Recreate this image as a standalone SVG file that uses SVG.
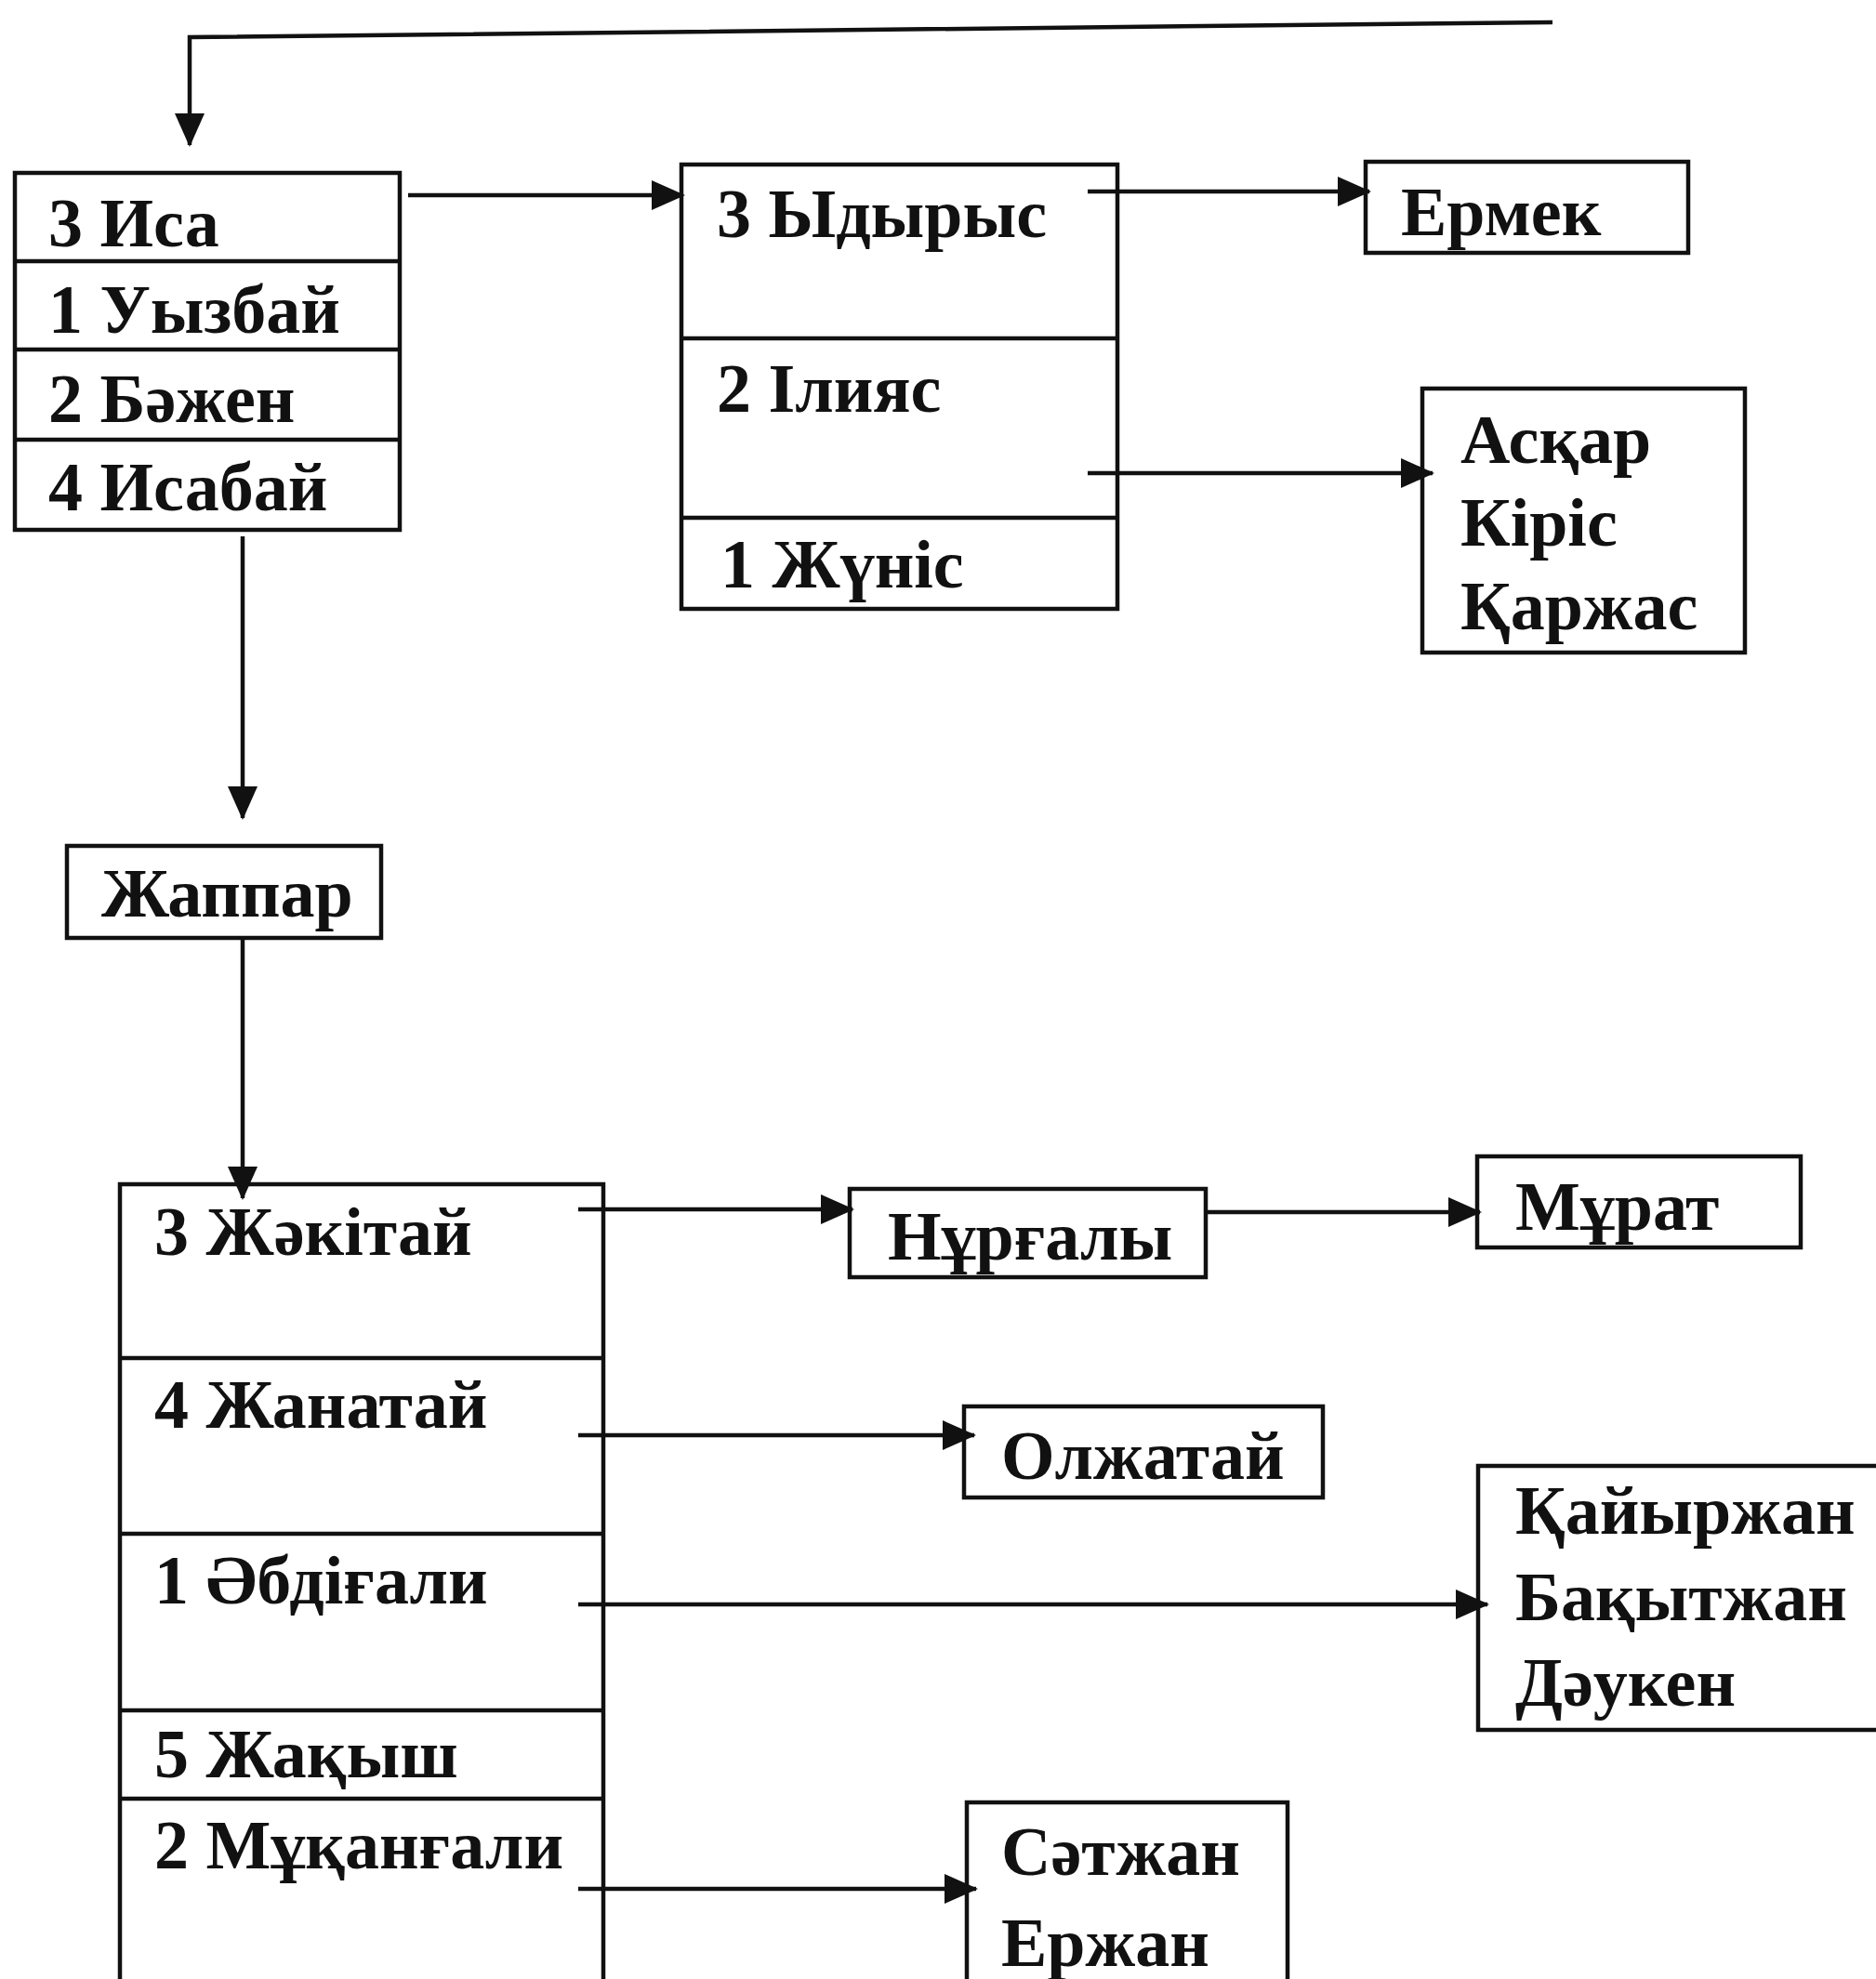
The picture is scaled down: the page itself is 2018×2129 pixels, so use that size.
<svg xmlns="http://www.w3.org/2000/svg" width="2018" height="2129" viewBox="0 0 2018 2129">
<defs>
<marker id="ah" markerUnits="userSpaceOnUse" markerWidth="36" markerHeight="32" refX="34" refY="16" orient="auto">
<path d="M0,0 L36,16 L0,32 z" fill="#111"/>
</marker>
</defs>
<style>
rect.b{fill:#fff;stroke:#111;stroke-width:4.5}
line.d{stroke:#111;stroke-width:4.5}
.c line,.c polyline{stroke:#111;stroke-width:4.5;fill:none}
text{font-family:"Liberation Serif","DejaVu Serif",serif;font-size:74px;font-weight:bold;fill:#111}
</style>
<rect width="2018" height="2129" fill="#fff"/>

<g id="isa">
<rect class="b" x="16" y="186" width="414" height="384"/>
<line class="d" x1="16" y1="281" x2="430" y2="281"/>
<line class="d" x1="16" y1="376" x2="430" y2="376"/>
<line class="d" x1="16" y1="473" x2="430" y2="473"/>
<text x="52" y="265">3 Иса</text>
<text x="52" y="358">1 Уызбай</text>
<text x="52" y="454">2 Бәжен</text>
<text x="52" y="549">4 Исабай</text>
</g>

<g id="ydyrys">
<rect class="b" x="733" y="177" width="469" height="478"/>
<line class="d" x1="733" y1="364" x2="1202" y2="364"/>
<line class="d" x1="733" y1="557" x2="1202" y2="557"/>
<text x="771" y="255">3 Ыдырыс</text>
<text x="771" y="443">2 Ілияс</text>
<text x="775" y="632">1 Жүніс</text>
</g>

<g id="ermek">
<rect class="b" x="1469" y="174" width="347" height="98"/>
<text x="1507" y="253">Ермек</text>
</g>

<g id="askar">
<rect class="b" x="1530" y="418" width="347" height="284"/>
<text x="1571" y="498">Асқар</text>
<text x="1571" y="587">Кіріс</text>
<text x="1571" y="677">Қаржас</text>
</g>

<g id="zhappar">
<rect class="b" x="72" y="910" width="338" height="99"/>
<text x="109" y="986">Жаппар</text>
</g>

<g id="zhakitai">
<rect class="b" x="129" y="1274" width="520" height="870"/>
<line class="d" x1="129" y1="1461" x2="649" y2="1461"/>
<line class="d" x1="129" y1="1650" x2="649" y2="1650"/>
<line class="d" x1="129" y1="1840" x2="649" y2="1840"/>
<line class="d" x1="129" y1="1935" x2="649" y2="1935"/>
<text x="166" y="1350">3 Жәкітай</text>
<text x="166" y="1536">4 Жанатай</text>
<text x="166" y="1725">1 Әбдіғали</text>
<text x="166" y="1912">5 Жақыш</text>
<text x="166" y="2010">2 Мұқанғали</text>
</g>

<g id="nurgaly">
<rect class="b" x="914" y="1279" width="383" height="95"/>
<text x="955" y="1355">Нұрғалы</text>
</g>

<g id="murat">
<rect class="b" x="1589" y="1244" width="348" height="98"/>
<text x="1630" y="1323">Мұрат</text>
</g>

<g id="olzhatai">
<rect class="b" x="1037" y="1513" width="386" height="98"/>
<text x="1077" y="1591">Олжатай</text>
</g>

<g id="kaiyrzhan">
<rect class="b" x="1590" y="1577" width="440" height="284"/>
<text x="1630" y="1650">Қайыржан</text>
<text x="1630" y="1743">Бақытжан</text>
<text x="1630" y="1835">Дәукен</text>
</g>

<g id="satzhan">
<rect class="b" x="1040" y="1939" width="345" height="200"/>
<text x="1077" y="2017">Сәтжан</text>
<text x="1077" y="2115">Ержан</text>
</g>

<g id="connectors" class="c">
<polyline points="1670,24 204,40 204,156" marker-end="url(#ah)"/>
<line x1="439" y1="210" x2="735" y2="210" marker-end="url(#ah)"/>
<line x1="1170" y1="206" x2="1473" y2="206" marker-end="url(#ah)"/>
<line x1="1170" y1="509" x2="1541" y2="509" marker-end="url(#ah)"/>
<line x1="261" y1="577" x2="261" y2="880" marker-end="url(#ah)"/>
<line x1="261" y1="1009" x2="261" y2="1289" marker-end="url(#ah)"/>
<line x1="622" y1="1301" x2="917" y2="1301" marker-end="url(#ah)"/>
<line x1="1297" y1="1304" x2="1592" y2="1304" marker-end="url(#ah)"/>
<line x1="622" y1="1544" x2="1048" y2="1544" marker-end="url(#ah)"/>
<line x1="622" y1="1726" x2="1600" y2="1726" marker-end="url(#ah)"/>
<line x1="622" y1="2032" x2="1050" y2="2032" marker-end="url(#ah)"/>
</g>
</svg>
